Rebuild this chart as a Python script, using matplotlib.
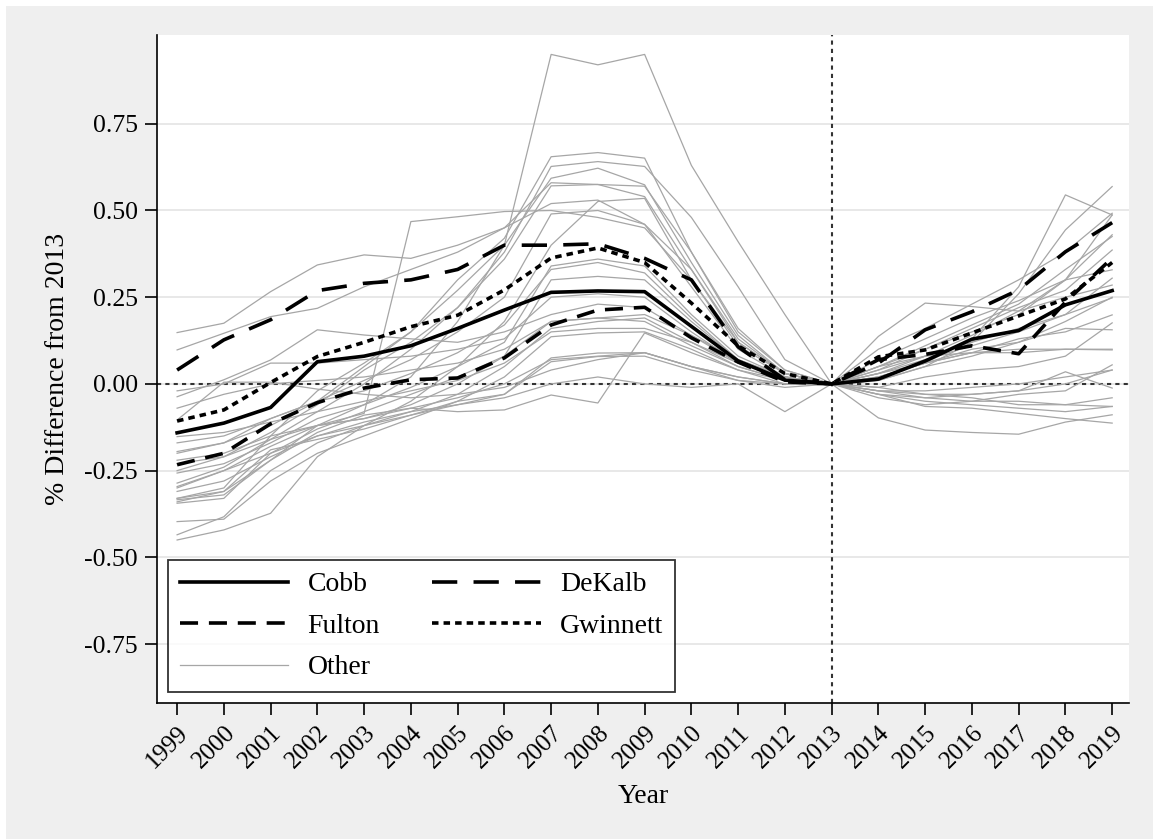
import numpy as np
import matplotlib
matplotlib.use("Agg")
import matplotlib.pyplot as plt
from matplotlib.patches import Rectangle

plt.rcParams["font.family"] = ["Liberation Serif", "DejaVu Serif"]
plt.rcParams["axes.unicode_minus"] = False

years = list(range(1999, 2020))

cobb = [-0.141, -0.113, -0.068, 0.064, 0.080, 0.110, 0.160, 0.213, 0.264, 0.268, 0.266,
        0.166, 0.066, 0.011, 0.0, 0.014, 0.066, 0.129, 0.154, 0.228, 0.269]
dekalb = [0.040, 0.127, 0.185, 0.269, 0.290, 0.300, 0.330, 0.400, 0.400, 0.404, 0.362,
          0.300, 0.107, 0.012, 0.0, 0.060, 0.156, 0.208, 0.271, 0.381, 0.465]
fulton = [-0.233, -0.200, -0.115, -0.054, -0.012, 0.012, 0.017, 0.075, 0.170, 0.213, 0.221,
          0.133, 0.063, 0.006, 0.0, 0.070, 0.085, 0.110, 0.087, 0.236, 0.363]
gwinnett = [-0.107, -0.075, 0.004, 0.079, 0.120, 0.165, 0.198, 0.271, 0.363, 0.392, 0.350,
            0.233, 0.110, 0.030, 0.0, 0.078, 0.098, 0.147, 0.196, 0.245, 0.350]

# remaining counties, one list per county
other_counties = [
    [-0.34, -0.31, -0.22, -0.12, -0.06, 0.02, 0.18, 0.40, 0.95, 0.92, 0.95,
     0.63, 0.41, 0.20, 0.0, -0.03, -0.04, -0.03, -0.02, 0.00, 0.04],
    [0.148, 0.175, 0.266, 0.343, 0.372, 0.362, 0.40, 0.45, 0.52, 0.53, 0.46,
     0.33, 0.12, 0.03, 0.0, 0.10, 0.16, 0.23, 0.30, 0.38, 0.492],
    [0.098, 0.146, 0.194, 0.218, 0.28, 0.33, 0.38, 0.45, 0.58, 0.575, 0.57,
     0.38, 0.16, 0.04, 0.0, 0.07, 0.13, 0.19, 0.24, 0.30, 0.43],
    [-0.30, -0.25, -0.18, -0.12, -0.085, 0.468, 0.482, 0.497, 0.50, 0.48, 0.45,
     0.30, 0.12, 0.03, 0.0, 0.02, 0.06, 0.10, 0.12, 0.18, 0.25],
    [-0.037, 0.012, 0.069, 0.156, 0.141, 0.13, 0.12, 0.15, 0.20, 0.23, 0.22,
     0.14, 0.06, 0.02, 0.0, 0.03, 0.07, 0.11, 0.15, 0.20, 0.248],
    [-0.104, 0.005, 0.005, -0.015, -0.03, -0.04, -0.03, -0.01, 0.04, 0.07, 0.09,
     0.05, 0.02, 0.00, 0.0, -0.02, -0.04, -0.05, -0.05, -0.06, -0.065],
    [-0.20, -0.17, -0.12, -0.05, 0.05, 0.15, 0.30, 0.42, 0.655, 0.667, 0.651,
     0.38, 0.15, 0.04, 0.0, 0.05, 0.11, 0.17, 0.23, 0.33, 0.425],
    [-0.25, -0.21, -0.14, -0.06, 0.04, 0.12, 0.22, 0.38, 0.627, 0.641, 0.627,
     0.48, 0.28, 0.07, 0.0, 0.04, 0.10, 0.16, 0.22, 0.27, 0.386],
    [-0.33, -0.30, -0.15, -0.02, 0.06, 0.15, 0.27, 0.40, 0.593, 0.622, 0.574,
     0.35, 0.14, 0.03, 0.0, 0.03, 0.08, 0.14, 0.21, 0.30, 0.487],
    [-0.286, -0.24, -0.16, -0.08, 0.00, 0.10, 0.22, 0.36, 0.571, 0.575, 0.54,
     0.33, 0.13, 0.03, 0.0, 0.02, 0.06, 0.13, 0.28, 0.545, 0.487],
    [-0.45, -0.421, -0.373, -0.21, -0.12, -0.05, 0.05, 0.18, 0.40, 0.526, 0.535,
     0.30, 0.11, 0.03, 0.0, 0.01, 0.05, 0.12, 0.26, 0.444, 0.569],
    [-0.435, -0.383, -0.25, -0.17, -0.12, -0.08, -0.03, 0.05, 0.16, 0.18, 0.19,
     0.12, 0.05, 0.01, 0.0, -0.03, -0.05, -0.06, -0.07, -0.08, -0.065],
    [-0.397, -0.39, -0.28, -0.20, -0.15, -0.10, -0.05, 0.02, 0.136, 0.147, 0.15,
     0.10, 0.04, 0.00, 0.0, -0.02, -0.02, -0.01, 0.00, 0.02, 0.04],
    [-0.344, -0.33, -0.20, -0.15, -0.12, -0.09, -0.05, -0.03, 0.075, 0.089, 0.09,
     0.05, 0.02, 0.00, 0.0, -0.04, -0.06, -0.05, -0.03, -0.02, 0.055],
    [-0.334, -0.32, -0.22, -0.14, -0.09, -0.07, -0.08, -0.075, -0.032, -0.055, 0.147,
     0.09, 0.04, 0.01, 0.0, 0.02, 0.06, 0.09, 0.09, 0.10, 0.10],
    [-0.33, -0.31, -0.19, -0.16, -0.13, -0.09, -0.06, -0.03, 0.064, 0.079, 0.08,
     0.04, 0.01, 0.00, 0.0, -0.01, -0.03, -0.03, -0.02, 0.035, -0.012],
    [-0.296, -0.25, -0.20, -0.13, -0.08, -0.03, 0.02, 0.08, 0.18, 0.19, 0.20,
     0.14, 0.07, 0.02, 0.0, 0.137, 0.233, 0.223, 0.21, 0.25, 0.285],
    [-0.257, -0.23, -0.17, -0.10, -0.06, -0.01, 0.05, 0.12, 0.34, 0.36, 0.34,
     0.20, 0.08, 0.02, 0.0, 0.04, 0.08, 0.12, 0.16, 0.20, 0.305],
    [-0.195, -0.17, -0.10, -0.05, 0.01, 0.07, 0.15, 0.25, 0.49, 0.50, 0.46,
     0.28, 0.10, 0.02, 0.0, 0.05, 0.10, 0.15, 0.20, 0.30, 0.329],
    [-0.17, -0.15, -0.10, -0.05, -0.02, 0.03, 0.09, 0.17, 0.33, 0.35, 0.32,
     0.19, 0.07, 0.01, 0.0, 0.03, 0.06, 0.09, 0.13, 0.15, 0.199],
    [-0.152, -0.14, -0.11, -0.08, -0.05, -0.02, 0.01, 0.06, 0.15, 0.16, 0.16,
     0.12, 0.06, 0.02, 0.0, -0.01, 0.02, 0.04, 0.05, 0.08, 0.176],
    [-0.07, -0.03, 0.00, 0.01, 0.02, 0.04, 0.06, 0.10, 0.18, 0.19, 0.18,
     0.11, 0.05, 0.01, 0.0, -0.02, -0.03, -0.04, -0.06, -0.06, -0.04],
    [-0.22, -0.20, -0.15, -0.12, -0.10, -0.07, -0.04, 0.00, 0.07, 0.08, 0.09,
     0.05, 0.01, -0.01, 0.0, -0.098, -0.133, -0.14, -0.145, -0.11, -0.089],
    [-0.31, -0.28, -0.21, -0.15, -0.11, -0.08, -0.06, -0.04, 0.00, 0.02, 0.00,
     -0.01, 0.00, -0.08, 0.0, -0.03, -0.065, -0.07, -0.085, -0.10, -0.113],
    [-0.02, 0.00, 0.06, 0.06, 0.07, 0.08, 0.10, 0.13, 0.25, 0.26, 0.25,
     0.15, 0.06, 0.02, 0.0, 0.01, 0.05, 0.08, 0.12, 0.16, 0.156],
    [-0.23, -0.21, -0.16, -0.12, -0.10, -0.06, 0.00, 0.08, 0.30, 0.31, 0.30,
     0.18, 0.07, 0.02, 0.0, 0.05, 0.08, 0.09, 0.10, 0.10, 0.098],
]

y_ticks = [-0.75, -0.50, -0.25, 0.0, 0.25, 0.50, 0.75]

fig = plt.figure(figsize=(11.53, 8.39), dpi=100, facecolor="white")
# grey panel behind everything, leaving a thin white strip top and left
fig.patches.append(Rectangle((6 / 1153, 0), 1 - 6 / 1153, 1 - 6 / 839,
                             transform=fig.transFigure, facecolor="#efefef",
                             edgecolor="none", zorder=-10))
ax = fig.add_axes([157 / 1153, 136 / 839, 972 / 1153, 668 / 839])
ax.set_zorder(1)
ax.set_facecolor("white")

for s in ["top", "right"]:
    ax.spines[s].set_visible(False)
for s in ["left", "bottom"]:
    ax.spines[s].set_linewidth(1.2)
    ax.spines[s].set_color("black")

ax.set_yticks(y_ticks)
ax.set_yticklabels([f"{v:.2f}" for v in y_ticks], fontsize=18.5)
ax.set_xticks(years)
ax.set_xticklabels([str(y) for y in years], fontsize=18, rotation=45,
                   ha="right", va="top", rotation_mode="anchor")
ax.tick_params(axis="x", length=8.6, width=1.2, pad=5)
ax.tick_params(axis="y", length=8.6, width=1.2, pad=5)
ax.grid(axis="y", color="#e8e8e8", linewidth=1.4, zorder=0)
ax.set_axisbelow(True)

ax.set_xlim(1998.57, 2019.36)
ax.set_ylim(-0.92, 1.006)

ax.axhline(0, color="#333333", linestyle=(0, (2, 2)), linewidth=1.5, zorder=1.5)
ax.axvline(2013, color="#333333", linestyle=(0, (2, 2)), linewidth=1.5, zorder=1.5)

for i, vals in enumerate(other_counties):
    ax.plot(years, vals, color="#a6a6a6", linewidth=0.9, zorder=2,
            label="Other" if i == 0 else None)

ax.plot(years, cobb, color="black", linewidth=2.6, linestyle="-", zorder=3, label="Cobb")
ax.plot(years, dekalb, color="black", linewidth=2.6, linestyle=(0, (7, 4.5)), zorder=3, label="DeKalb")
ax.plot(years, fulton, color="black", linewidth=2.6, linestyle=(0, (5, 3)), zorder=3, label="Fulton")
ax.plot(years, gwinnett, color="black", linewidth=2.6, linestyle=(0, (1.8, 1.4)), zorder=3, label="Gwinnett")

handles, labels = ax.get_legend_handles_labels()
order = ["Cobb", "Fulton", "Other", "DeKalb", "Gwinnett"]
hl = dict(zip(labels, handles))
leg = ax.legend([hl[k] for k in order], order, loc="lower left",
                bbox_to_anchor=(11 / 972, 11 / 668, 507 / 972, 134 / 668),
                mode="expand", ncol=2, fontsize=20, frameon=True, fancybox=False,
                edgecolor="black", handlelength=3.9, handletextpad=0.7,
                borderpad=0.42, labelspacing=0.58, borderaxespad=0,
                columnspacing=1.5)
leg.get_frame().set_linewidth(1.3)
leg.set_zorder(5)

ax.set_xlabel("Year", fontsize=20)
ax.set_ylabel("% Difference from 2013", fontsize=20)
ax.xaxis.set_label_coords(0.5, -0.122)
ax.yaxis.set_label_coords(-0.089, 0.5)

fig.savefig("out.png", dpi=100, facecolor=fig.get_facecolor())
